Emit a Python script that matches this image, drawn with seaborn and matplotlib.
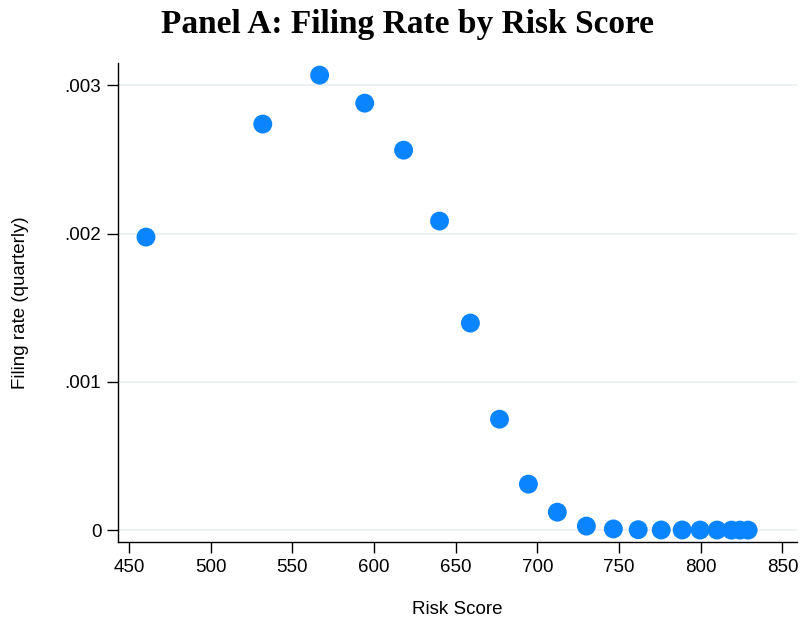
import numpy as np
import pandas as pd
import matplotlib
matplotlib.use("Agg")
import matplotlib.pyplot as plt
import seaborn as sns

# data
risk_score = [460.4, 531.9, 566.7, 594.3, 618.1, 640.1, 659.0, 676.8, 694.5, 712.2,
              730.0, 746.5, 761.7, 775.8, 788.6, 799.6, 810.0, 818.8, 824.0, 829.0]
filing_rate = [0.001976, 0.002738, 0.003068, 0.002879, 0.002562, 0.002084, 0.001396,
               0.000748, 0.000310, 0.000121, 0.000027, 0.000008, 0.000003, 0.000001,
               0.000001, 0.0000005, 0.0000005, 0.0, 0.0, 0.0]

x_ticks = [450, 500, 550, 600, 650, 700, 750, 800, 850]
y_ticks = [0, 0.001, 0.002, 0.003]
y_tick_labels = ["0", ".001", ".002", ".003"]

df = pd.DataFrame({"Risk Score": risk_score, "Filing rate": filing_rate})

sns.set_style("white")
plt.rcParams["font.family"] = ["Liberation Sans", "DejaVu Sans"]
plt.rcParams["text.color"] = "black"
plt.rcParams["axes.labelcolor"] = "black"
plt.rcParams["xtick.color"] = "black"
plt.rcParams["ytick.color"] = "black"

fig = plt.figure(figsize=(8.03, 6.21), dpi=100)
ax = fig.add_axes([0.147, 0.127, 0.8455, 0.7716])

sns.scatterplot(
    data=df,
    x="Risk Score",
    y="Filing rate",
    s=185,
    color="#0a84ff",
    edgecolor="none",
    ax=ax,
    zorder=3,
)

ax.set_xlim(443.3, 858.9)
ax.set_ylim(-0.000081, 0.00315)
ax.set_xticks(x_ticks)
ax.set_yticks(y_ticks)
ax.set_yticklabels(y_tick_labels)
ax.yaxis.grid(True, color="#e8eff1", linewidth=1.2, zorder=0)
ax.xaxis.grid(False)

for side in ["top", "right"]:
    ax.spines[side].set_visible(False)
for side in ["left", "bottom"]:
    ax.spines[side].set_color("black")
    ax.spines[side].set_linewidth(1.0)

ax.tick_params(axis="both", direction="out", length=8, width=1, color="black",
               labelsize=13.5, pad=4, left=True, bottom=True)

ax.set_xlabel("Risk Score", fontsize=13.5, labelpad=18)
ax.set_ylabel("Filing rate (quarterly)", fontsize=13.5, labelpad=26)

fig.suptitle("Panel A: Filing Rate by Risk Score", x=0.507, y=0.985,
             fontsize=24, fontweight="bold", family=["Liberation Serif", "DejaVu Serif"])

fig.savefig("out.png", dpi=100)
